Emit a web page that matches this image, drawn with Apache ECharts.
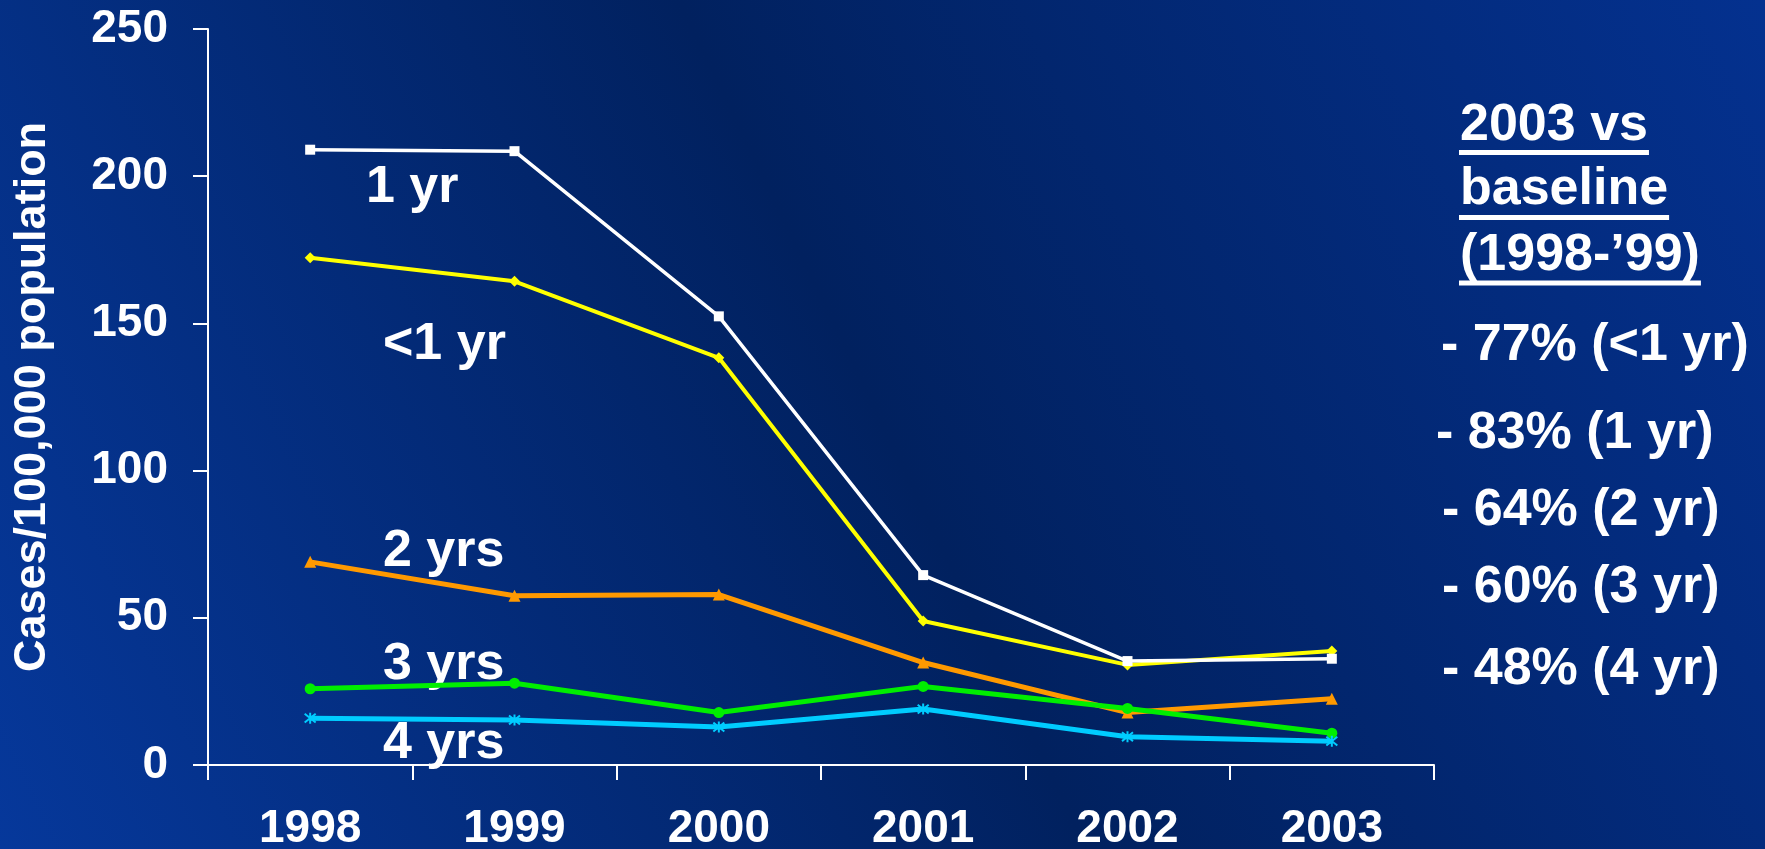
<!DOCTYPE html>
<html>
<head>
<meta charset="utf-8">
<script src="https://cdn.jsdelivr.net/npm/echarts@6/dist/echarts.min.js"></script>
<style>
  html, body { margin: 0; padding: 0; background: #02246c; }
  #chart { width: 1765px; height: 849px; }
</style>
</head>
<body>
<div id="chart"></div>
<script>
// Incidence per 100,000 population by age group, 1998-2003
const years = ['1998', '1999', '2000', '2001', '2002', '2003'];
const underOneYr = [172.3, 164.3, 138.3, 48.9, 34.0, 38.7];
const oneYr = [209.0, 208.5, 152.4, 64.5, 35.3, 36.1];
const twoYrs = [69.0, 57.5, 57.9, 34.8, 17.8, 22.5];
const threeYrs = [25.9, 27.8, 17.8, 26.7, 19.2, 10.8];
const fourYrs = [15.9, 15.3, 12.9, 19.0, 9.6, 8.1];

const yMin = 0;
const yMax = 250;
const yStep = 50;

const seriesNames = ['<1 yr', '1 yr', '2 yrs', '3 yrs', '4 yrs'];
const headerLines = ['2003 vs', 'baseline', '(1998-\u201999)'];
const changeLines = ['- 77% (<1 yr)', '- 83% (1 yr)', '- 64% (2 yr)', '- 60% (3 yr)', '- 48% (4 yr)'];

const FONT = '"Liberation Sans", Arial, Helvetica, sans-serif';

// asterisk marker: vertical stroke plus an X
const asterisk = 'path://M5,0L5,10M1,1L9,9M1,9L9,1';

const chart = echarts.init(document.getElementById('chart'), null, { renderer: 'canvas' });

function lineSeries(name, data, color, width, symbol, size, extraItem) {
  return {
    name: name,
    type: 'line',
    data: data,
    symbol: symbol,
    symbolSize: size,
    showAllSymbol: true,
    lineStyle: { color: color, width: width },
    itemStyle: Object.assign({ color: color }, extraItem || {}),
    emphasis: { disabled: true },
    animation: false
  };
}

// measure text to size the underlines of the header
const measureCtx = document.createElement('canvas').getContext('2d');
function textWidth(text, font) {
  measureCtx.font = font;
  return measureCtx.measureText(text).width;
}

const bigFont = 'bold 52px ' + FONT;
const graphics = [];

// series captions placed next to their lines
const captionSpots = [
  { x: 383, y: 345 },
  { x: 366, y: 188 },
  { x: 383, y: 552 },
  { x: 383, y: 665 },
  { x: 383, y: 744 }
];
seriesNames.forEach(function (name, i) {
  graphics.push({
    type: 'text',
    x: captionSpots[i].x,
    y: captionSpots[i].y,
    silent: true,
    style: { text: name, fill: '#ffffff', font: bigFont, align: 'left', verticalAlign: 'middle' }
  });
});

// header block with underlines
const headerY = [126, 190, 256];
const underlineY = [150, 215, 280.5];
headerLines.forEach(function (t, i) {
  graphics.push({
    type: 'text',
    x: 1460,
    y: headerY[i],
    silent: true,
    style: { text: t, fill: '#ffffff', font: bigFont, align: 'left', verticalAlign: 'middle' }
  });
  graphics.push({
    type: 'rect',
    silent: true,
    shape: { x: 1459, y: underlineY[i], width: textWidth(t, bigFont) + 2, height: 5 },
    style: { fill: '#ffffff' }
  });
});

// percentage change lines
const changeX = [1441, 1436, 1442, 1442, 1442];
const changeY = [346, 434, 511, 588, 670];
changeLines.forEach(function (t, i) {
  graphics.push({
    type: 'text',
    x: changeX[i],
    y: changeY[i],
    silent: true,
    style: { text: t, fill: '#ffffff', font: bigFont, align: 'left', verticalAlign: 'middle' }
  });
});

const option = {
  animation: false,
  backgroundColor: new echarts.graphic.LinearGradient(0, 1, 1, 0, [
    { offset: 0, color: '#06389b' },
    { offset: 0.5, color: '#01215f' },
    { offset: 1, color: '#04318f' }
  ]),
  textStyle: { fontFamily: FONT },
  grid: { left: 208, right: 331, top: 29, bottom: 84, containLabel: false, outerBoundsMode: 'none' },
  xAxis: {
    type: 'category',
    data: years,
    boundaryGap: true,
    axisLine: { show: true, lineStyle: { color: '#ffffff', width: 2 } },
    axisTick: { show: true, alignWithLabel: false, length: 15, lineStyle: { color: '#ffffff', width: 2 } },
    axisLabel: { color: '#ffffff', fontSize: 46, fontWeight: 'bold', fontFamily: FONT, margin: 41 },
    splitLine: { show: false }
  },
  yAxis: {
    type: 'value',
    min: yMin,
    max: yMax,
    interval: yStep,
    name: 'Cases/100,000 population',
    nameLocation: 'middle',
    nameGap: 153,
    nameTextStyle: { color: '#ffffff', fontSize: 45, fontWeight: 'bold', fontFamily: FONT },
    axisLine: { show: true, lineStyle: { color: '#ffffff', width: 2 } },
    axisTick: { show: true, length: 15, lineStyle: { color: '#ffffff', width: 2 } },
    axisLabel: { color: '#ffffff', fontSize: 46, fontWeight: 'bold', fontFamily: FONT, margin: 40 },
    splitLine: { show: false }
  },
  series: [
    lineSeries(seriesNames[0], underOneYr, '#ffff00', 4, 'diamond', 11),
    lineSeries(seriesNames[1], oneYr, '#ffffff', 3.5, 'rect', 10),
    lineSeries(seriesNames[2], twoYrs, '#ff9900', 5, 'triangle', 12),
    lineSeries(seriesNames[3], threeYrs, '#00ee00', 5, 'circle', 11),
    lineSeries(seriesNames[4], fourYrs, '#00ccff', 5, asterisk, 11,
      { borderColor: '#00ccff', borderWidth: 2 })
  ],
  graphic: graphics
};

chart.setOption(option);
</script>
</body>
</html>
